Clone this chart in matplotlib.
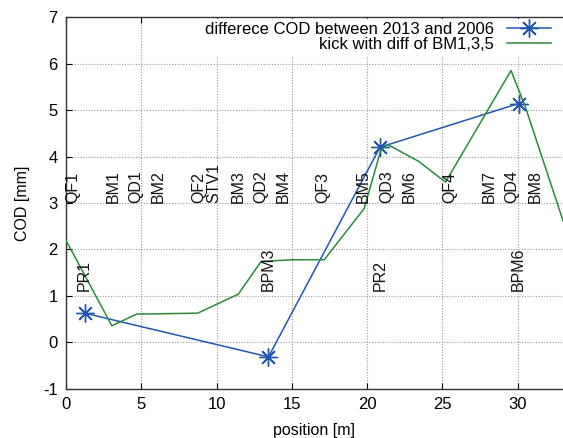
import matplotlib
matplotlib.use("Agg")
import matplotlib.pyplot as plt

plt.rcParams['font.family'] = ['Liberation Sans', 'DejaVu Sans']
plt.rcParams['axes.unicode_minus'] = False

# measured COD difference (blue)
cod_x = [1.25, 13.45, 20.85, 30.05]
cod_y = [0.63, -0.31, 4.2, 5.14]
bpm_names = ['PR1', 'BPM3', 'PR2', 'BPM6']

# kick model (green)
kick_x = [0.0, 0.55, 3.05, 4.7, 8.75, 11.45, 12.95, 15.05, 17.15, 19.8, 20.9, 21.35, 23.4, 25.2, 29.55, 30.5, 33.0]
kick_y = [2.2, 1.87, 0.36, 0.61, 0.63, 1.04, 1.74, 1.78, 1.78, 2.88, 4.13, 4.26, 3.9, 3.45, 5.85, 5.07, 2.62]

# element labels
elem_names = ['QF1', 'BM1', 'QD1', 'BM2', 'QF2', 'STV1', 'BM3', 'QD2', 'BM4', 'QF3',
              'BM5', 'QD3', 'BM6', 'QF4', 'BM7', 'QD4', 'BM8']
elem_x = [0.46, 3.13, 4.61, 6.14, 8.79, 9.80, 11.43, 12.91, 14.46, 17.06,
          19.76, 21.28, 22.78, 25.45, 28.08, 29.58, 31.13]

xticks = [0, 5, 10, 15, 20, 25, 30]
yticks = [-1, 0, 1, 2, 3, 4, 5, 6, 7]

blue = '#2156b0'
green = '#2b8a3e'

fig = plt.figure(figsize=(5.63, 4.38), dpi=100)
ax = fig.add_axes([0.117, 0.112, 0.883, 0.849])

ax.plot(cod_x, cod_y, color=blue, lw=1.1, marker=(8, 2, 0), ms=13, mew=1.0,
        label='differece COD between 2013 and 2006', zorder=3)
ax.plot(kick_x, kick_y, color=green, lw=1.1, label='kick with diff of BM1,3,5', zorder=3)

for name, x in zip(elem_names, elem_x):
    ax.text(x, 3.0, name, rotation=90, ha='center', va='bottom', fontsize=11.5, color='#111111')
for name, x in zip(bpm_names, cod_x):
    ax.text(x, 1.1, name, rotation=90, ha='center', va='bottom', fontsize=11.5, color='#111111')

ax.set_xlim(0, 33)
ax.set_ylim(-1, 7)
ax.set_xticks(xticks)
ax.set_yticks(yticks)
ax.tick_params(direction='in', top=True, right=False, length=4, labelsize=12, pad=6)
ax.grid(True, color='#999999', linestyle=(0, (1, 1.5)), lw=0.8)
ax.set_axisbelow(True)
ax.spines['right'].set_visible(False)
for s in ['left', 'top', 'bottom']:
    ax.spines[s].set_linewidth(1.0)
    ax.spines[s].set_color('#333333')

ax.set_xlabel('position [m]', fontsize=11.5, labelpad=8)
ax.set_ylabel('COD [mm]', fontsize=11.5, labelpad=9)

leg = ax.legend(loc='upper right', markerfirst=False, frameon=True, fontsize=12,
                handlelength=2.6, borderaxespad=0.1, labelspacing=0.0, handletextpad=0.8,
                fancybox=False, borderpad=0.2, bbox_to_anchor=(0.985, 1.0))
leg.get_frame().set_edgecolor('white')
leg.get_frame().set_facecolor('white')
leg.get_frame().set_alpha(1.0)

fig.savefig('out.png', dpi=100)
